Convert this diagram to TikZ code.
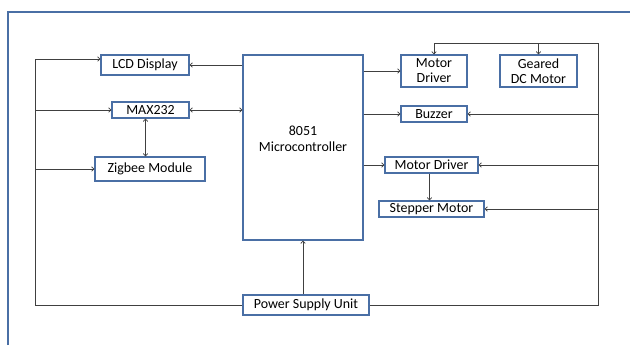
\documentclass[tikz,border=0pt]{standalone}
\usepackage{fontspec}
\setmainfont{Carlito}
\usetikzlibrary{arrows.meta}
\definecolor{boxblue}{HTML}{4A6FA5}
\definecolor{linegray}{HTML}{404040}
\tikzset{
  blk/.style={draw=boxblue, line width=1.4pt, fill=white, inner sep=0pt,
    font=\fontsize{14}{15}\selectfont, align=center},
  conn/.style={draw=linegray, line width=0.8pt, -{To[length=3pt,width=5pt]}},
  biconn/.style={draw=linegray, line width=0.8pt, {To[length=3pt,width=5pt]}-{To[length=3pt,width=5pt]}},
  wire/.style={draw=linegray, line width=0.8pt},
}
\begin{document}
\begin{tikzpicture}[x=1bp,y=-1bp]
  \useasboundingbox (0,0) rectangle (630,345);
  % frame
  \draw[boxblue, line width=1.2pt] (8,345) -- (8,12) -- (630,12);
  % blocks
  \node[blk, minimum width=88bp, minimum height=20bp] (lcd) at (145,65) {LCD Display};
  \node[blk, minimum width=77bp, minimum height=16bp] (max) at (150.5,110) {MAX232};
  \node[blk, minimum width=110bp, minimum height=24bp] (zig) at (150,169) {Zigbee Module};
  \node[blk, minimum width=120bp, minimum height=185bp] (mcu) at (303,147.5) {};
  \node[font=\fontsize{14}{16}\selectfont, align=center] (mcutxt) at (303,139) {8051\\Microcontroller};
  \node[blk, minimum width=66bp, minimum height=32bp] (md1) at (434,71) {Motor\\Driver};
  \node[blk, minimum width=77bp, minimum height=32bp] (gdc) at (538.5,71) {Geared\\DC Motor};
  \node[blk, minimum width=66bp, minimum height=16bp] (buz) at (434,114) {Buzzer};
  \node[blk, minimum width=93bp, minimum height=16bp] (md2) at (431.5,165) {Motor Driver};
  \node[blk, minimum width=105bp, minimum height=16bp] (stp) at (431.5,209) {Stepper Motor};
  \node[blk, minimum width=126bp, minimum height=20bp] (psu) at (306,305) {Power Supply Unit};
  % supply buses
  \coordinate (lbtop) at (35,59);
  \coordinate (lbbot) at (35,305);
  \coordinate (rbtop) at (598,43);
  \coordinate (rbbot) at (598,305);
  % left bus
  \draw[wire] (lbtop) -- (lbbot) -- (psu.west);
  \draw[conn] (lbtop) -- (lbtop -| lcd.west);
  \draw[conn] (lbtop |- max.west) -- (max.west);
  \draw[conn] (lbtop |- zig.west) -- (zig.west);
  % right bus
  \draw[wire] (md1.north |- rbtop) -- (rbtop) -- (rbbot) -- (psu.east);
  \draw[conn] (md1.north |- rbtop) -- (md1.north);
  \draw[conn] (gdc.north |- rbtop) -- (gdc.north);
  \draw[conn] (rbtop |- buz.east) -- (buz.east);
  \draw[conn] (rbtop |- md2.east) -- (md2.east);
  \draw[conn] (rbtop |- stp.east) -- (stp.east);
  % controller links
  \draw[conn] (mcu.west |- lcd.east) -- (lcd.east);
  \draw[biconn] (max.east) -- (mcu.west |- max.east);
  \draw[biconn] ([xshift=-5bp]max.south) -- ([xshift=-5bp]max.south |- zig.north);
  \draw[conn] (mcu.east |- md1.west) -- (md1.west);
  \draw[conn] (mcu.east |- buz.west) -- (buz.west);
  \draw[conn] (mcu.east |- md2.west) -- (md2.west);
  \draw[conn] ([xshift=-2bp]md2.south) -- ([xshift=-2bp]md2.south |- stp.north);
  \draw[conn] (psu.north -| mcu.south) -- (mcu.south);
\end{tikzpicture}
\end{document}
